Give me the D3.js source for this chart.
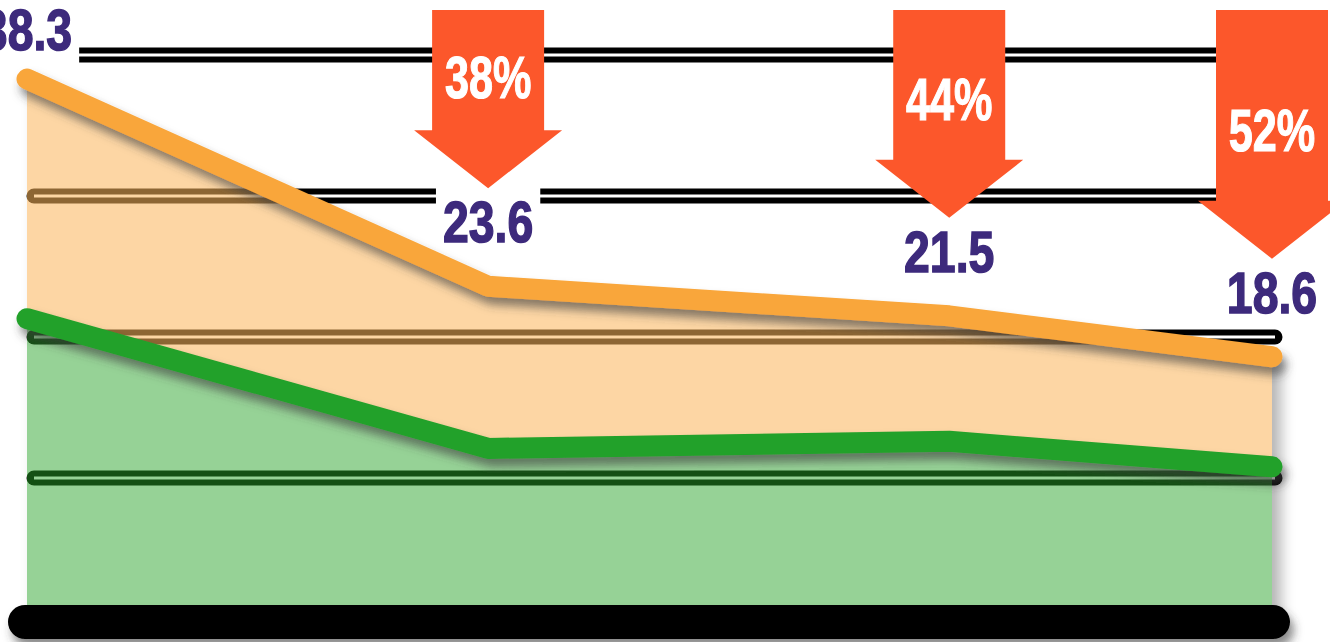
<!DOCTYPE html>
<html>
<head>
<meta charset="utf-8">
<script src="https://cdn.jsdelivr.net/npm/d3@7"></script>
<style>
  html, body { margin: 0; padding: 0; background: #ffffff; }
  svg { display: block; }
</style>
</head>
<body>
<svg id="chart" width="1330" height="642"></svg>
<script>
// Data
const years = [1990, 2000, 2010, 2017];
const upperValues = [38.3, 23.6, 21.5, 18.6];   // orange series
const lowerValues = [21.3, 12.1, 12.6, 10.8];   // green series
const dropLabels = ["38%", "44%", "52%"];       // decline versus the first point
const gridValues = [10, 20, 30, 40];

const W = 1330, H = 642;
const svg = d3.select("#chart");

const x = d3.scaleLinear().domain([years[0], years[years.length - 1]]).range([27, 1272]);
const y = d3.scaleLinear().domain([0, 40]).range([619, 55]);

const rows = years.map((yr, i) => ({ yr, up: upperValues[i], lo: lowerValues[i] }));

const defs = svg.append("defs");
const shadow = defs.append("filter").attr("id", "shadow")
  .attr("filterUnits", "userSpaceOnUse")
  .attr("x", 0).attr("y", 0).attr("width", W).attr("height", H);
shadow.append("feDropShadow").attr("dx", 4).attr("dy", 8).attr("stdDeviation", 5)
  .attr("flood-color", "#3a3a3a").attr("flood-opacity", 0.6);
const blur = defs.append("filter").attr("id", "blur")
  .attr("filterUnits", "userSpaceOnUse")
  .attr("x", 0).attr("y", 0).attr("width", W).attr("height", H);
blur.append("feGaussianBlur").attr("stdDeviation", 7);

const fullArea = d3.area().x(d => x(d.yr)).y0(y(0)).y1(d => y(d.up));
const upperBand = d3.area().x(d => x(d.yr)).y0(d => y(d.lo)).y1(d => y(d.up));
const lowerBand = d3.area().x(d => x(d.yr)).y0(y(0)).y1(d => y(d.lo));
const upperLine = d3.line().x(d => x(d.yr)).y(d => y(d.up));
const lowerLine = d3.line().x(d => x(d.yr)).y(d => y(d.lo));

// soft shadow behind the filled region
svg.append("path").datum(rows).attr("d", fullArea)
  .attr("fill", "#777").attr("opacity", 0.55)
  .attr("transform", "translate(9,6)").attr("filter", "url(#blur)");
svg.append("path").datum(rows).attr("d", fullArea).attr("fill", "#ffffff");

// double grid rules
const gx0 = x(years[0]) + 7, gx1 = x(years[years.length - 1]) + 3;
const grid = svg.append("g");
grid.selectAll("line.outer").data(gridValues).join("line")
  .attr("x1", gx0).attr("x2", gx1).attr("y1", d => y(d)).attr("y2", d => y(d))
  .attr("stroke", "#000").attr("stroke-width", 15).attr("stroke-linecap", "round");
grid.selectAll("line.inner").data(gridValues).join("line")
  .attr("x1", gx0).attr("x2", gx1).attr("y1", d => y(d)).attr("y2", d => y(d))
  .attr("stroke", "#fff").attr("stroke-width", 3.2);

// value label placement
const labelFont = "'Liberation Sans', Arial, 'DejaVu Sans', sans-serif";
const capH = 41;
const labelBase = d => Math.max(y(d.up) - 44, capH + 9);

const boxes = svg.append("g");          // white backing that breaks the rules
const valueLabels = svg.append("g");    // text drawn last

// translucent filled bands
const bands = svg.append("g");
bands.append("path").datum(rows).attr("d", upperBand).attr("fill", "#fbb55d").attr("opacity", 0.56);
bands.append("path").datum(rows).attr("d", lowerBand).attr("fill", "#29a329").attr("opacity", 0.49);

// base bar
svg.append("rect")
  .attr("x", x(years[0]) - 19).attr("y", y(0) - 14)
  .attr("width", x(years[years.length - 1]) - x(years[0]) + 37).attr("height", 34)
  .attr("rx", 17).attr("fill", "#000")
  .attr("filter", "url(#shadow)");

// series lines
svg.append("path").datum(rows).attr("d", lowerLine)
  .attr("fill", "none").attr("stroke", "#22a12a").attr("stroke-width", 21)
  .attr("stroke-linecap", "round").attr("stroke-linejoin", "round")
  .attr("filter", "url(#shadow)");
svg.append("path").datum(rows).attr("d", upperLine)
  .attr("fill", "none").attr("stroke", "#f9a63a").attr("stroke-width", 21)
  .attr("stroke-linecap", "round").attr("stroke-linejoin", "round")
  .attr("filter", "url(#shadow)");

valueLabels.raise();
const labelGroups = valueLabels.selectAll("g").data(rows).join("g")
  .attr("transform", d => `translate(${x(d.yr)},${labelBase(d)})`);
labelGroups.append("text")
  .attr("transform", "scale(0.8,1)")
  .attr("text-anchor", "middle")
  .attr("font-family", labelFont).attr("font-weight", "bold").attr("font-size", 58)
  .attr("fill", "#3d2a7c").attr("stroke", "#3d2a7c").attr("stroke-width", 1.5)
  .text(d => d.up.toFixed(1));
labelGroups.each(function (d) {
  const b = this.getBBox();
  boxes.append("rect")
    .attr("x", x(d.yr) + b.x - 7).attr("y", labelBase(d) - capH - 14)
    .attr("width", b.width + 14).attr("height", capH + 28)
    .attr("fill", "#fff");
});

// decline arrows above the later points
const arrowTop = 10, shaftHalf = 56, headHalf = 74, headH = 58;
const arrows = svg.append("g");
rows.slice(1).forEach((d, i) => {
  const cx = x(d.yr);
  const tip = labelBase(d) - capH - 13;
  const base = tip - headH;
  const p = d3.path();
  p.moveTo(cx - shaftHalf, arrowTop);
  p.lineTo(cx + shaftHalf, arrowTop);
  p.lineTo(cx + shaftHalf, base);
  p.lineTo(cx + headHalf, base);
  p.lineTo(cx, tip);
  p.lineTo(cx - headHalf, base);
  p.lineTo(cx - shaftHalf, base);
  p.closePath();
  arrows.append("path").attr("d", p.toString()).attr("fill", "#fc572b");
  const textBase = 0.5 * (base - 35) + 0.5 * ((arrowTop + base) / 2 + 30);
  arrows.append("g")
    .attr("transform", `translate(${cx},${textBase})`)
    .append("text")
    .attr("transform", "scale(0.72,1)")
    .attr("text-anchor", "middle")
    .attr("font-family", labelFont).attr("font-weight", "bold").attr("font-size", 60)
    .attr("fill", "#fff").attr("stroke", "#fff").attr("stroke-width", 1.2)
    .text(dropLabels[i]);
});
</script>
</body>
</html>
